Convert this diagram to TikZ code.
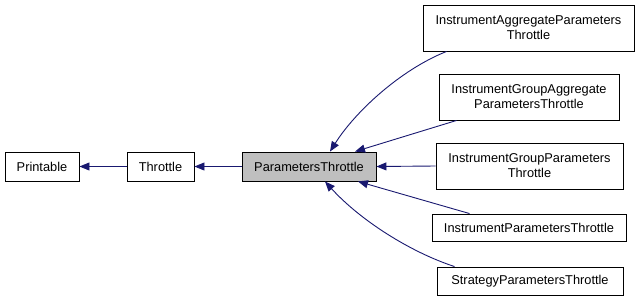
\documentclass[tikz,border=0pt]{standalone}
\usepackage{fontspec}
\setmainfont{Liberation Sans}
\usetikzlibrary{arrows.meta,calc}
\definecolor{edgeblue}{RGB}{25,25,112}
\definecolor{basegray}{RGB}{191,191,191}

\begin{document}
\begin{tikzpicture}[x=1pt, y=-1pt,
  cls/.style={draw=black, line width=0.9pt, rectangle, inner sep=0pt,
    align=center, font=\fontsize{12.8}{15}\selectfont},
  edge/.style={draw=edgeblue, line width=0.9pt,
    {Triangle[length=10pt,width=8pt,fill=edgeblue]}-}]
  \useasboundingbox (0,0) rectangle (640,301);
  % base classes
  \node[cls, minimum width=74pt, minimum height=29pt] (printable) at (42,166.5) {Printable};
  \node[cls, minimum width=67pt, minimum height=29pt] (throttle) at (160.5,166.5) {Throttle};
  \node[cls, fill=basegray, minimum width=134pt, minimum height=29pt] (params) at (309,166.5) {ParametersThrottle};
  % derived classes
  \node[cls, minimum width=211pt, minimum height=46pt] (instagg) at (528.5,28) {InstrumentAggregateParameters\\Throttle};
  \node[cls, minimum width=180pt, minimum height=46pt] (grpagg) at (529,97) {InstrumentGroupAggregate\\ParametersThrottle};
  \node[cls, minimum width=187pt, minimum height=46pt] (grp) at (529.5,166) {InstrumentGroupParameters\\Throttle};
  \node[cls, minimum width=194pt, minimum height=27pt] (inst) at (529,227.5) {InstrumentParametersThrottle};
  \node[cls, minimum width=186pt, minimum height=28pt] (strat) at (530,281) {StrategyParametersThrottle};

  \draw[edge] (printable) -- (throttle);
  \draw[edge] (throttle) -- (params);
  \draw[edge] ($(params.north)+(21,0)$) .. controls (355,112) and (400,70) .. ($(instagg.south west)+(24,0)$);
  \draw[edge] ($(params.north)+(46,0)$) -- ($(grpagg.south west)+(18,0)$);
  \draw[edge] (params.east) -- (grp.west);
  \draw[edge] ($(params.south)+(49,0)$) -- ($(inst.north west)+(38,0)$);
  \draw[edge] ($(params.south)+(16,0)$) .. controls (360,220) and (410,252) .. ($(strat.north west)+(18,0)$);
\end{tikzpicture}
\end{document}
